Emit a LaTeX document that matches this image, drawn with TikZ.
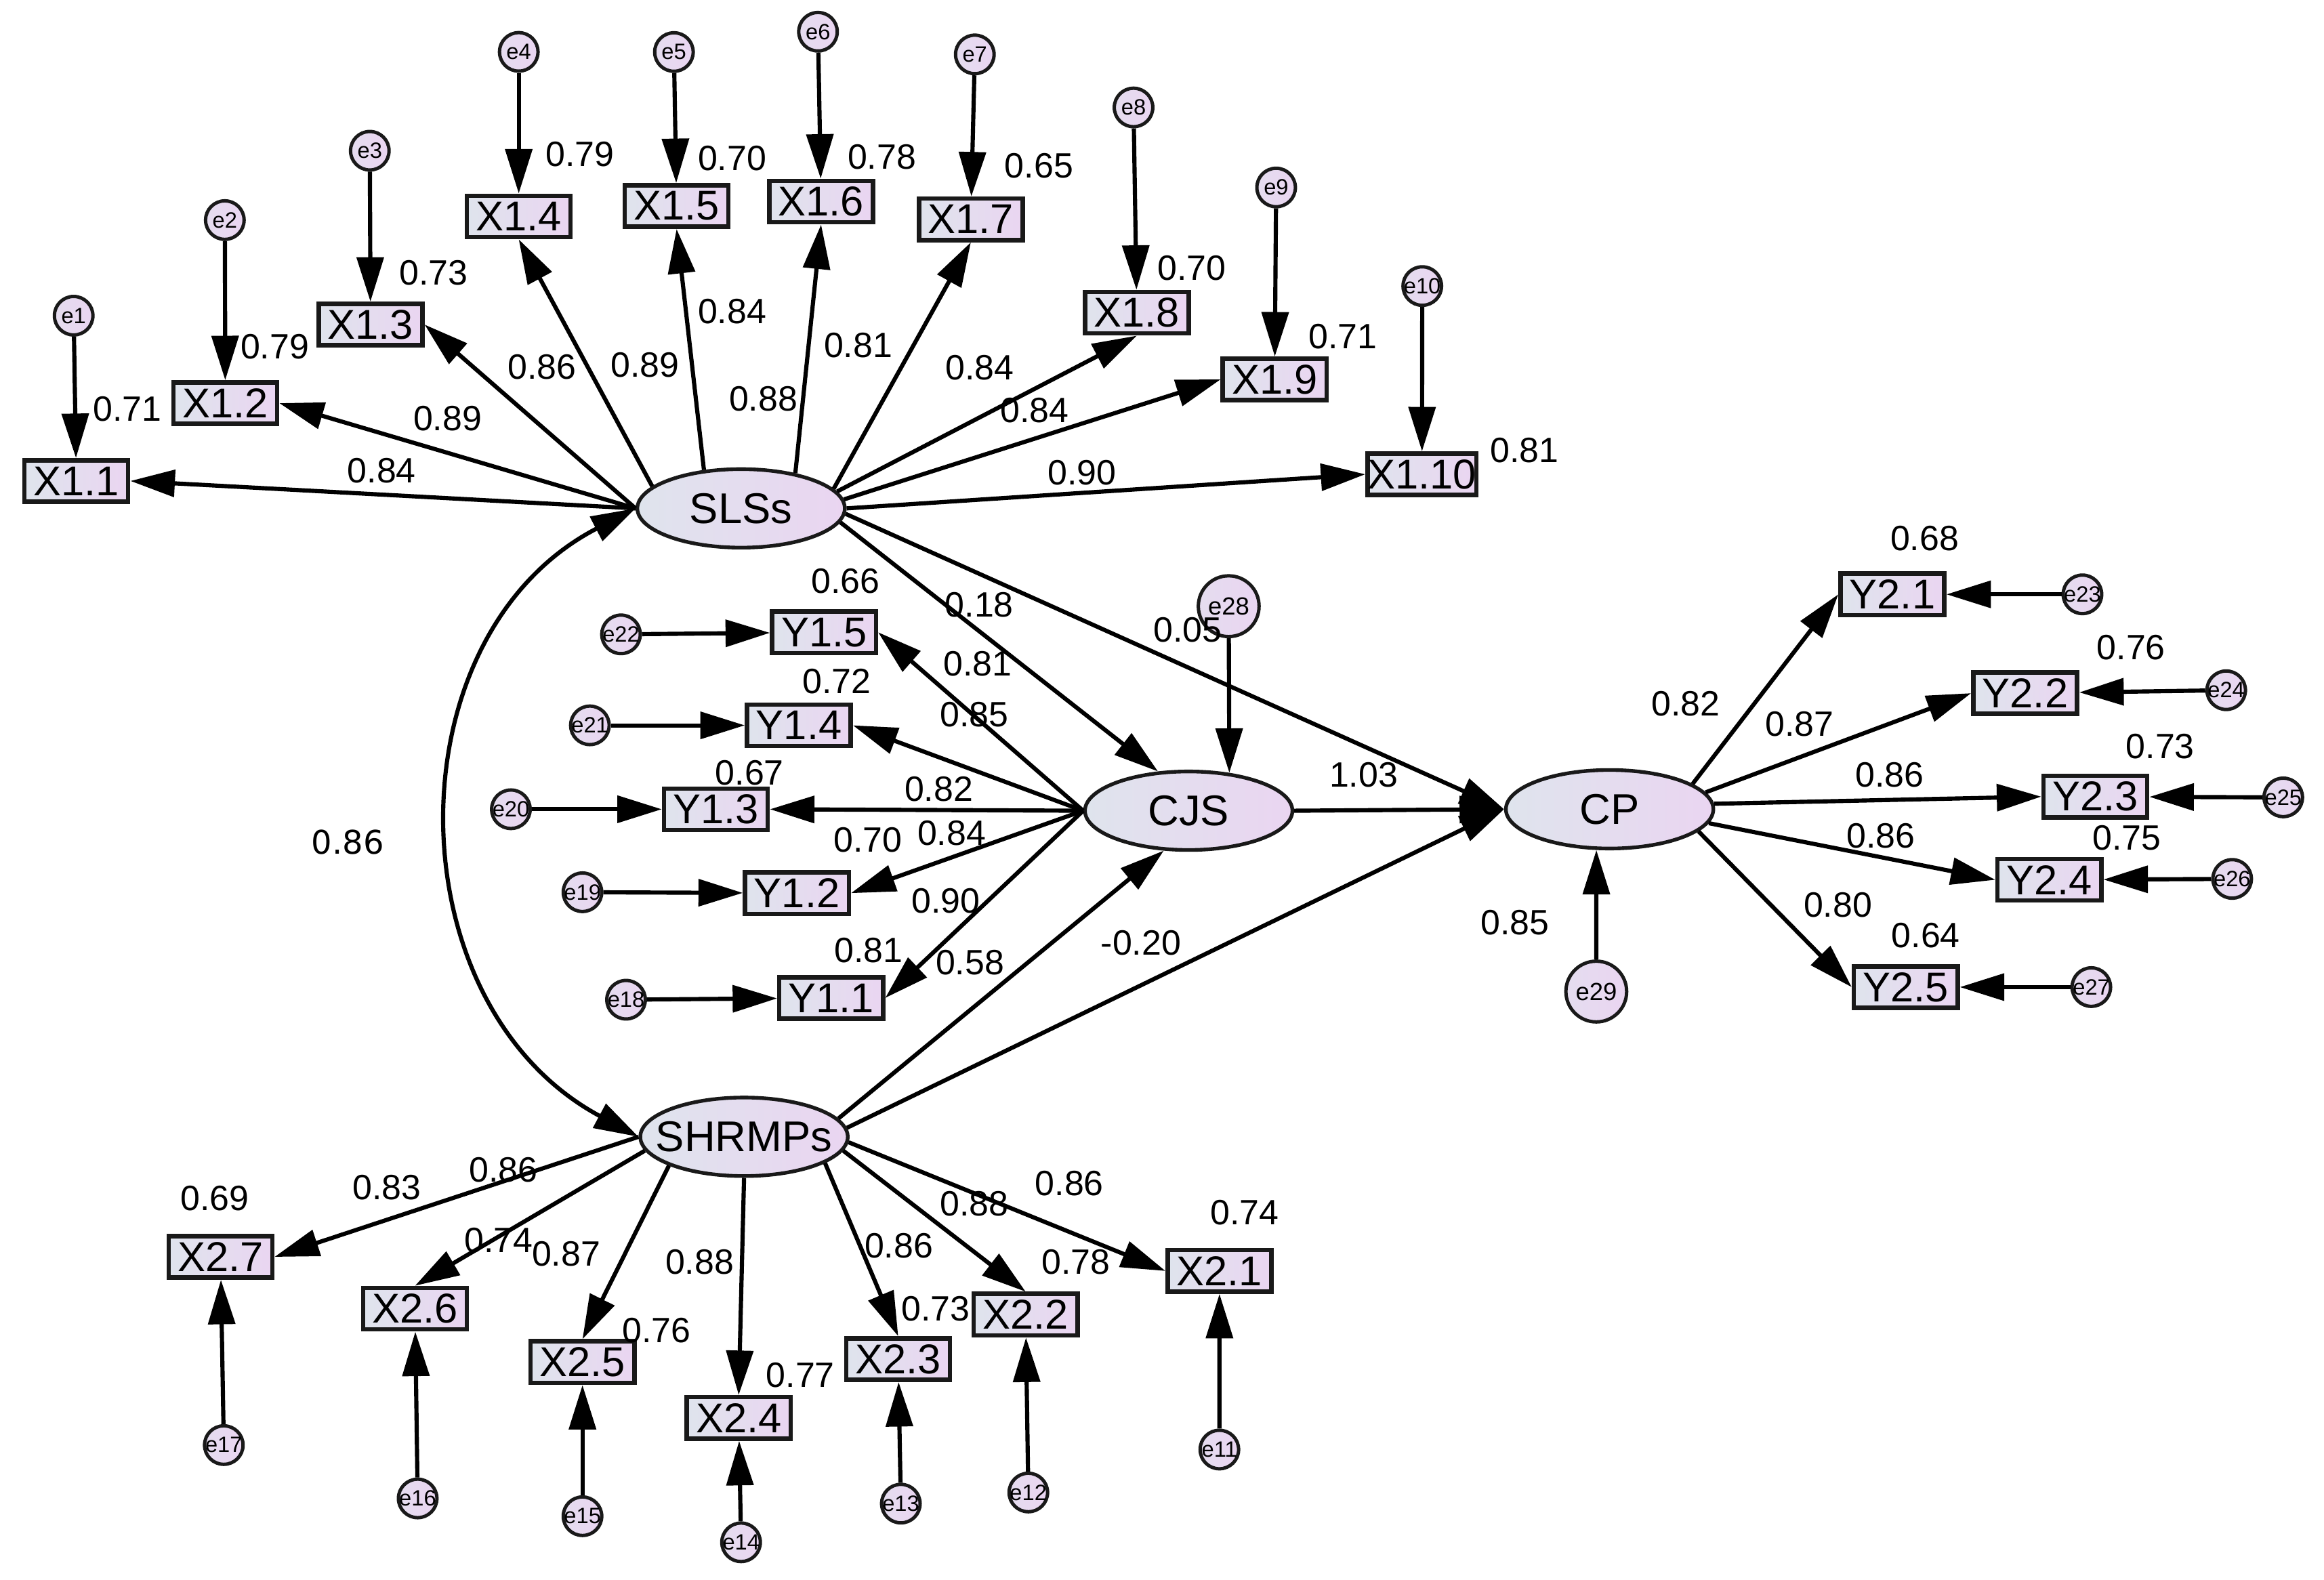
\documentclass[tikz,border=0pt]{standalone}
\usepackage{fontspec}
\setmainfont{Liberation Sans}
\newfontfamily\dejavu{DejaVu Sans}
\usetikzlibrary{arrows.meta,shapes.geometric}

\definecolor{fillL}{HTML}{DFE4ED}
\definecolor{fillR}{HTML}{EAD5F1}

\begin{document}
\begin{tikzpicture}[x=0.02cm,y=-0.02cm,
    >={Triangle[length=0.6cm,width=0.36cm]},
    obs/.style={rectangle,draw=black!90,line width=1.7pt,left color=fillL,right color=fillR,
      minimum width=1.4cm,minimum height=0.56cm,inner sep=0pt,font=\fontsize{16}{16}\selectfont},
    lat/.style={ellipse,draw=black!90,line width=1.4pt,left color=fillL,right color=fillR,
      minimum width=2.8cm,minimum height=1.06cm,inner xsep=-0.35cm,inner ysep=0pt,
      font=\fontsize{16.5}{16.5}\selectfont},
    err/.style={circle,draw=black!90,line width=1.3pt,left color=fillL!50!fillR,right color=fillR,
      minimum size=0.52cm,inner sep=-1.5pt,font=\fontsize{8.5}{8.5}\selectfont},
    bigerr/.style={err,minimum size=0.82cm,font=\fontsize{9.5}{9.5}\selectfont},
    coef/.style={font=\fontsize{13.5}{13.5}\selectfont,inner sep=1pt},
    conn/.style={line width=1.6pt}]
  \useasboundingbox (0,0) rectangle (1568,1066);

  % latent variables
  \node[lat] (SLSs) at (500,343) {SLSs};
  \node[lat] (CJS) at (802,547) {CJS};
  \node[lat] (CP) at (1086,546) {CP};
  \node[lat] (SHRMPs) at (502,767) {SHRMPs};

  % observed variables
  \draw
    (51.5,324.5) node[obs] (X11){X1.1}
    (152,272) node[obs] (X12){X1.2}
    (250,219) node[obs] (X13){X1.3}
    (350,146) node[obs] (X14){X1.4}
    (456.5,139) node[obs] (X15){X1.5}
    (554,136) node[obs] (X16){X1.6}
    (655,148) node[obs] (X17){X1.7}
    (767,211) node[obs] (X18){X1.8}
    (860,256) node[obs] (X19){X1.9}
    (959.4,320) node[obs] (X110){X1.10}
    (822.8,857.5) node[obs] (X21){X2.1}
    (692,887) node[obs] (X22){X2.2}
    (606,917) node[obs] (X23){X2.3}
    (498.4,956.7) node[obs] (X24){X2.4}
    (393,919) node[obs] (X25){X2.5}
    (280,883) node[obs] (X26){X2.6}
    (148.8,848) node[obs] (X27){X2.7}
    (560.8,673.3) node[obs] (Y11){Y1.1}
    (537.7,602.6) node[obs] (Y12){Y1.2}
    (483,546) node[obs] (Y13){Y1.3}
    (539,489.4) node[obs] (Y14){Y1.4}
    (556,426.6) node[obs] (Y15){Y1.5}
    (1276.8,401) node[obs] (Y21){Y2.1}
    (1366.4,467.7) node[obs] (Y22){Y2.2}
    (1413.7,537.5) node[obs] (Y23){Y2.3}
    (1382.7,593.6) node[obs] (Y24){Y2.4}
    (1285.8,666) node[obs] (Y25){Y2.5};

  % error terms
  \draw
    (49.7,213) node[err] (e1){e1}
    (151.7,148.5) node[err] (e2){e2}
    (249.5,101.7) node[err] (e3){e3}
    (350,35) node[err] (e4){e4}
    (454.7,35.1) node[err] (e5){e5}
    (551.9,21.4) node[err] (e6){e6}
    (657.7,36.7) node[err] (e7){e7}
    (764.8,72.5) node[err] (e8){e8}
    (861,126.5) node[err] (e9){e9}
    (959.6,193) node[err] (e10){e10}
    (822.7,978) node[err] (e11){e11}
    (693.8,1007) node[err] (e12){e12}
    (607.8,1014.5) node[err] (e13){e13}
    (500,1040.6) node[err] (e14){e14}
    (393,1023) node[err] (e15){e15}
    (281.8,1011) node[err] (e16){e16}
    (151,975) node[err] (e17){e17}
    (422.4,674.5) node[err] (e18){e18}
    (393,602) node[err] (e19){e19}
    (344.7,546) node[err] (e20){e20}
    (398,489.4) node[err] (e21){e21}
    (419,428) node[err] (e22){e22}
    (1405,401) node[err] (e23){e23}
    (1502,465.7) node[err] (e24){e24}
    (1540.5,538) node[err] (e25){e25}
    (1506,593) node[err] (e26){e26}
    (1411,666) node[err] (e27){e27}
    (829,409) node[bigerr] (e28){e28}
    (1077,669) node[bigerr] (e29){e29};

  \begin{scope}[conn,->]
    \draw (SLSs.west) to (X11.east);
    \draw (SLSs.west) to (X12.east);
    \draw (SLSs.west) to (X13.east);
    \draw (SLSs.166) to (X14.south);
    \draw (SLSs.134) to (X15.south);
    \draw (SLSs.33) to (X16.south);
    \draw (SLSs.12) to (X17.south);
    \draw (SLSs.10) to (X18.south);
    \draw (SLSs.5) to (X19.west);
    \draw (SLSs.east) to (X110.west);
    \draw (SHRMPs.west) to (X27.east);
    \draw (SHRMPs.188) to (X26.north);
    \draw (SHRMPs.201) to (X25.north);
    \draw (SHRMPs.south) to (X24.north);
    \draw (SHRMPs.-18) to (X23.north);
    \draw (SHRMPs.-8) to (X22.north);
    \draw (SHRMPs.-3) to (X21.west);
    \draw (CJS.west) to (Y15.east);
    \draw (CJS.west) to (Y14.east);
    \draw (CJS.west) to (Y13.east);
    \draw (CJS.west) to (Y12.east);
    \draw (CJS.west) to (Y11.east);
    \draw (CP.17) to (Y21.west);
    \draw (CP.10) to (Y22.west);
    \draw (CP.3) to (Y23.west);
    \draw (CP.-8) to (Y24.west);
    \draw (CP.-14) to (Y25.west);
    \draw (SLSs.-8) to (CJS.128);
    \draw (SLSs.-3) to (CP.west);
    \draw (CJS.east) to (CP.west);
    \draw (SHRMPs.11) to (CJS.238);
    \draw (SHRMPs.5) to (CP.west);
    \draw (e1) to (X11);
    \draw (e2) to (X12);
    \draw (e3) to (X13);
    \draw (e4) to (X14);
    \draw (e5) to (X15);
    \draw (e6) to (X16);
    \draw (e7) to (X17);
    \draw (e8) to (X18);
    \draw (e9) to (X19);
    \draw (e10) to (X110);
    \draw (e11) to (X21);
    \draw (e12) to (X22);
    \draw (e13) to (X23);
    \draw (e14) to (X24);
    \draw (e15) to (X25);
    \draw (e16) to (X26);
    \draw (e17) to (X27);
    \draw (e18) to (Y11);
    \draw (e19) to (Y12);
    \draw (e20) to (Y13);
    \draw (e21) to (Y14);
    \draw (e22) to (Y15);
    \draw (e23) to (Y21);
    \draw (e24) to (Y22);
    \draw (e25) to (Y23);
    \draw (e26) to (Y24);
    \draw (e27) to (Y25);
    \draw (e28) to (CJS.43);
    \draw (e29) to (CP.252);
  \end{scope}
  \draw[conn,<->] (SLSs.west) .. controls (263,429) and (265,678) .. (SHRMPs.west);

  % coefficients
  \draw[every node/.style=coef]
    (86,276) node (r11){0.71}
    (185.4,233.8) node (r12){0.79}
    (292.5,184) node (r13){0.73}
    (391.3,104.2) node (r14){0.79}
    (494,107) node (r15){0.70}
    (595,106) node (r16){0.78}
    (701,112) node (r17){0.65}
    (804,181) node (r18){0.70}
    (906,227) node (r19){0.71}
    (1028.6,304) node (r110){0.81}
    (257.5,317.4) node (w11){0.84}
    (302,282.3) node (w12){0.89}
    (365.6,247.6) node (w13){0.86}
    (435.2,246.3) node (w14){0.89}
    (494,210) node (w15){0.84}
    (515,269) node (w16){0.88}
    (579,233) node (w17){0.81}
    (661,248) node (w18){0.84}
    (698,277) node (w19){0.84}
    (730,319) node (w110){0.90}
    (570.4,391.9) node (r15y){0.66}
    (659.6,447.8) node (w15y){0.81}
    (564.5,459.5) node (r14y){0.72}
    (657.2,482.3) node (w14y){0.85}
    (505.7,521.3) node (r13y){0.67}
    (633.4,532.3) node (w13y){0.82}
    (585.5,566.8) node (r12y){0.70}
    (642.1,562.1) node (w12y){0.84}
    (638,607.6) node (w11y){0.90}
    (586.1,641) node (r11y){0.81}
    (660.7,408) node (b1){0.18}
    (801.3,425) node (b2){0.05}
    (920,523) node (b3){1.03}
    (654.4,649.6) node (b4){0.58}
    (769.8,636.3) node (b5){-0.20}
    (1022,622.3) node (b6){0.85}
    (1298.5,363.4) node (r21y){0.68}
    (1437.8,437) node (r22y){0.76}
    (1457.5,503.4) node (r23y){0.73}
    (1435,565.3) node (r24y){0.75}
    (1299.3,631) node (r25y){0.64}
    (1137.2,474.9) node (w21y){0.82}
    (1214,488.5) node (w22y){0.87}
    (1274.9,522.7) node (w23y){0.86}
    (1269,564) node (w24y){0.86}
    (1240,610.4) node (w25y){0.80}
    (145,808.7) node (r27){0.69}
    (261,801.4) node (w27){0.83}
    (339.6,789.3) node (w26){0.86}
    (336.4,837) node (r26){0.74}
    (382,846.2) node (w25){0.87}
    (443,897.8) node (r25){0.76}
    (472,851.4) node (w24){0.88}
    (540,928) node (r24){0.77}
    (606.4,840.5) node (w23){0.86}
    (631.2,883.2) node (r23){0.73}
    (657.4,812) node (w22){0.88}
    (726,851.4) node (r22){0.78}
    (721.5,798.4) node (w21){0.86}
    (839.6,818.2) node (r21){0.74};
  \node[coef,font=\dejavu\fontsize{12.5}{12.5}\selectfont] (cov) at (234.6,568.4) {0.86};
\end{tikzpicture}
\end{document}
